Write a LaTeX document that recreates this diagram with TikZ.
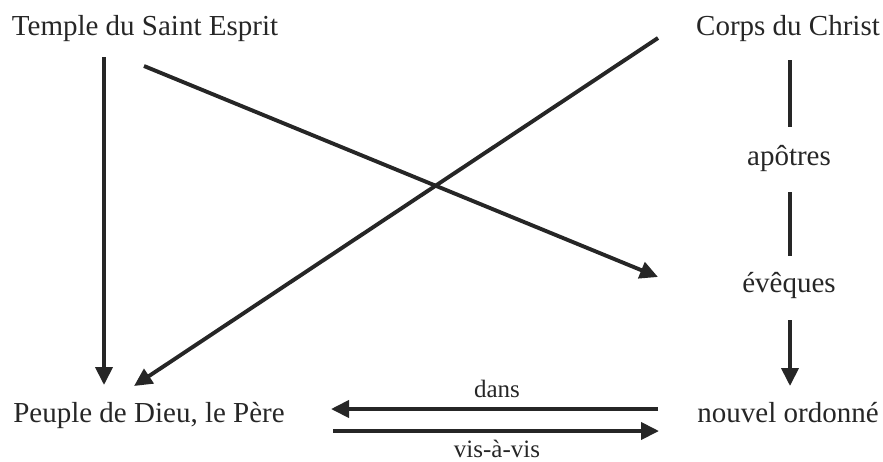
\documentclass[tikz,border=0pt]{standalone}
\usepackage{fontspec}
\setmainfont{Liberation Serif}
\usetikzlibrary{arrows.meta}
\begin{document}
\begin{tikzpicture}[x=1pt,y=-1pt,
  lbl/.style={inner sep=0pt,anchor=base,font=\fontsize{29}{34}\selectfont,text=black!85},
  small/.style={inner sep=0pt,anchor=base,font=\fontsize{25}{30}\selectfont,text=black!85},
  ln/.style={line width=3.9pt,draw=black!85},
  arr/.style={ln,-{Triangle[length=18pt,width=17pt]}}]
\useasboundingbox (0,0) rectangle (883,461);
\node[lbl] (temple) at (145,35) {Temple du Saint Esprit};
\node[lbl] (corps) at (788,35) {Corps du Christ};
\node[lbl] (apotres) at (789,165) {apôtres};
\node[lbl] (eveques) at (789,292) {évêques};
\node[lbl] (peuple) at (149,422) {Peuple de Dieu, le Père};
\node[lbl] (nouvel) at (788,422) {nouvel ordonné};
\node[small] (dans) at (497,397) {dans};
\node[small] (vis) at (497,457) {vis-à-vis};
% endpoints
\coordinate (a1) at (104,57);
\coordinate (a2) at (104,385);
\coordinate (b1) at (144,66);
\coordinate (b2) at (658,277);
\coordinate (c1) at (658,38);
\coordinate (c2) at (134,386);
\coordinate (d1) at (790,60);
\coordinate (d2) at (790,127);
\coordinate (e1) at (790,192);
\coordinate (e2) at (790,256);
\coordinate (f1) at (790,320);
\coordinate (f2) at (790,386);
\coordinate (g1) at (658,409);
\coordinate (g2) at (331,409);
\coordinate (h1) at (333,431);
\coordinate (h2) at (659,431);
\draw[arr] (a1) -- (a2);
\draw[arr] (b1) -- (b2);
\draw[arr] (c1) -- (c2);
\draw[ln] (d1) -- (d2);
\draw[ln] (e1) -- (e2);
\draw[arr] (f1) -- (f2);
\draw[arr] (g1) -- (g2);
\draw[arr] (h1) -- (h2);
\end{tikzpicture}
\end{document}
